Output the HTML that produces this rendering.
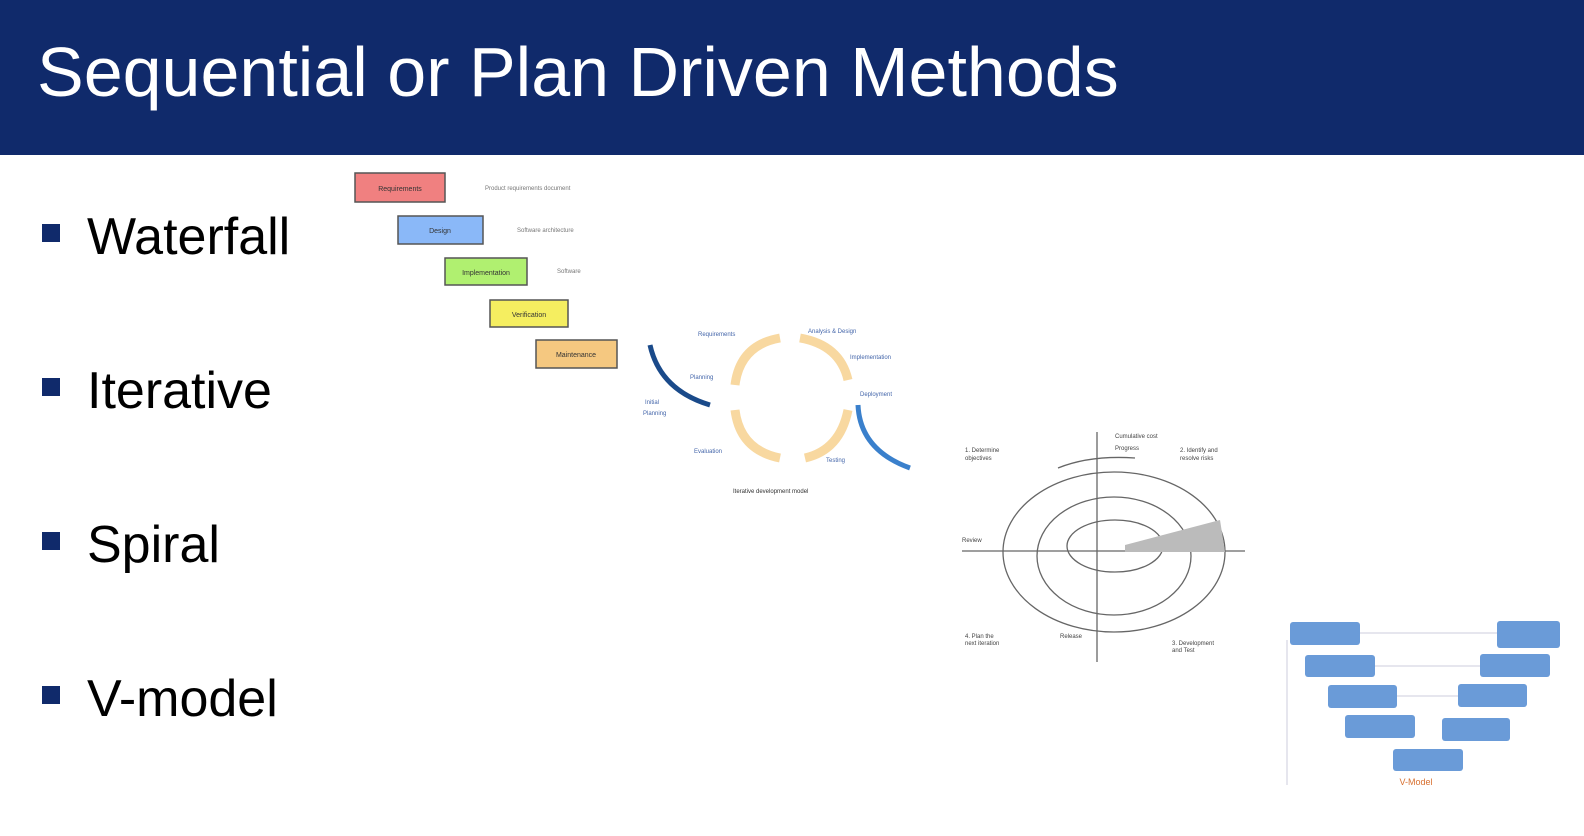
<!DOCTYPE html>
<html><head><meta charset="utf-8"><style>
body{margin:0;width:1584px;height:836px;background:#fff;position:relative;overflow:hidden;font-family:"Liberation Sans",sans-serif}
.bar{position:absolute;left:0;top:0;width:1584px;height:155px;background:#102a6b}
.title{position:absolute;left:37px;top:37px;color:#fff;font-size:70px;line-height:1;white-space:nowrap}
.b{position:absolute;left:42px;width:18px;height:18px;background:#102a6b}
.t{position:absolute;left:87px;font-size:52px;color:#000;white-space:nowrap}
</style></head><body>
<div class="bar"></div>
<div class="title">Sequential or Plan Driven Methods</div>
<div class="b" style="top:224px"></div><div class="t" style="top:207px">Waterfall</div>
<div class="b" style="top:378px"></div><div class="t" style="top:361px">Iterative</div>
<div class="b" style="top:532px"></div><div class="t" style="top:515px">Spiral</div>
<div class="b" style="top:686px"></div><div class="t" style="top:669px">V-model</div>
<svg width="1584" height="836" style="position:absolute;left:0;top:0" font-family="Liberation Sans" >
<g stroke="#555" stroke-width="1.5" font-size="7" text-anchor="middle">
<rect x="355" y="173" width="90" height="29" fill="#f08080"/><text x="400" y="191" stroke="none" fill="#333">Requirements</text>
<rect x="398" y="216" width="85" height="28" fill="#8ab8f8"/><text x="440" y="233" stroke="none" fill="#333">Design</text>
<rect x="445" y="258" width="82" height="27" fill="#b0f070"/><text x="486" y="275" stroke="none" fill="#333">Implementation</text>
<rect x="490" y="300" width="78" height="27" fill="#f5ee60"/><text x="529" y="317" stroke="none" fill="#333">Verification</text>
<rect x="536" y="340" width="81" height="28" fill="#f5c880"/><text x="576" y="357" stroke="none" fill="#333">Maintenance</text>
</g>
<g font-size="6" fill="#777"><text x="485" y="190">Product requirements document</text><text x="517" y="232">Software architecture</text><text x="557" y="273">Software</text></g>
<g fill="none" stroke="#f8d8a0" stroke-width="9">
<path d="M735 385 Q740 345 780 338"/><path d="M800 338 Q840 345 848 380"/><path d="M848 410 Q840 450 805 458"/><path d="M780 458 Q740 450 735 410"/></g>
<path d="M650 345 Q660 390 710 405" fill="none" stroke="#1a4a8a" stroke-width="5"/>
<path d="M858 405 Q860 450 910 468" fill="none" stroke="#3a80cc" stroke-width="5"/>
<g font-size="6" fill="#4466aa"><text x="698" y="336">Requirements</text><text x="808" y="333">Analysis &amp; Design</text><text x="850" y="359">Implementation</text><text x="860" y="396">Deployment</text><text x="826" y="462">Testing</text><text x="694" y="453">Evaluation</text><text x="690" y="379">Planning</text><text x="645" y="404">Initial</text><text x="643" y="415">Planning</text><text x="733" y="493" fill="#333">Iterative development model</text></g>
<g fill="none" stroke="#666" stroke-width="1.3">
<line x1="1097" y1="432" x2="1097" y2="662"/><line x1="962" y1="551" x2="1245" y2="551"/>
<ellipse cx="1114" cy="552" rx="111" ry="80"/><ellipse cx="1114" cy="556" rx="77" ry="59"/><ellipse cx="1115" cy="546" rx="48" ry="26"/>
<path d="M1058 468 Q1090 455 1135 458"/></g>
<path d="M1125 545 L1220 520 L1225 552 L1125 552Z" fill="#bbb"/>
<g font-size="6" fill="#444"><text x="965" y="452">1. Determine</text><text x="965" y="460">objectives</text><text x="1115" y="438">Cumulative cost</text><text x="1115" y="450">Progress</text><text x="1180" y="452">2. Identify and</text><text x="1180" y="460">resolve risks</text><text x="962" y="542">Review</text><text x="965" y="638">4. Plan the</text><text x="965" y="645">next iteration</text><text x="1060" y="638">Release</text><text x="1172" y="645">3. Development</text><text x="1172" y="652">and Test</text></g>
<g stroke="#ccd" stroke-width="1"><line x1="1287" y1="640" x2="1287" y2="785"/><line x1="1360" y1="633" x2="1497" y2="633"/><line x1="1375" y1="666" x2="1480" y2="666"/><line x1="1397" y1="696" x2="1458" y2="696"/></g>
<g fill="#6a9bd8">
<rect x="1290" y="622" width="70" height="23" rx="3"/><rect x="1497" y="621" width="63" height="27" rx="3"/>
<rect x="1305" y="655" width="70" height="22" rx="3"/><rect x="1480" y="654" width="70" height="23" rx="3"/>
<rect x="1328" y="685" width="69" height="23" rx="3"/><rect x="1458" y="684" width="69" height="23" rx="3"/>
<rect x="1345" y="715" width="70" height="23" rx="3"/><rect x="1442" y="718" width="68" height="23" rx="3"/>
<rect x="1393" y="749" width="70" height="22" rx="3"/></g>
<text x="1416" y="785" font-size="9" fill="#d87030" text-anchor="middle">V-Model</text>
</svg>
</body></html>
